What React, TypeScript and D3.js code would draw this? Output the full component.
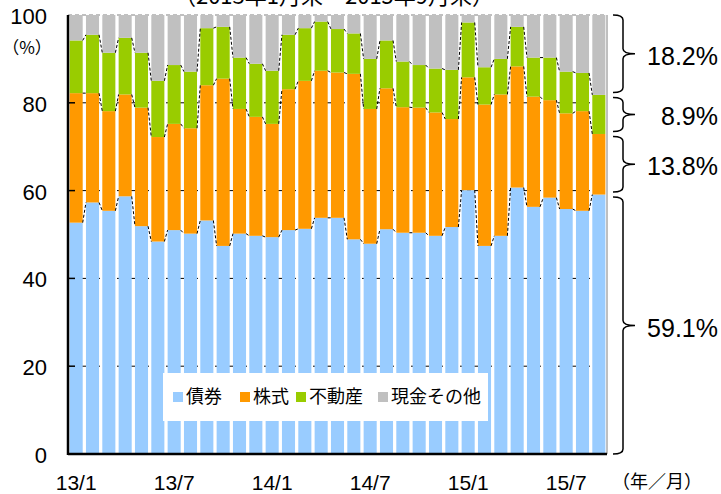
import React from "react";
import * as d3 from "d3";

// 2013/1 - 2015/9 month ends
const months = [
  "13/1", "13/2", "13/3", "13/4", "13/5", "13/6", "13/7", "13/8", "13/9", "13/10", "13/11", "13/12",
  "14/1", "14/2", "14/3", "14/4", "14/5", "14/6", "14/7", "14/8", "14/9", "14/10", "14/11", "14/12",
  "15/1", "15/2", "15/3", "15/4", "15/5", "15/6", "15/7", "15/8", "15/9",
];

const bonds = [
  52.7, 57.3, 55.4, 58.7, 51.9, 48.4, 51.0, 50.2, 53.2, 47.4, 50.2, 49.7,
  49.4, 51.0, 51.3, 53.8, 53.8, 48.9, 47.9, 51.2, 50.4, 50.4, 49.7, 51.7,
  60.1, 47.4, 49.7, 60.7, 56.3, 58.4, 55.8, 55.4, 59.1,
];
const stocks = [
  29.5, 24.9, 22.7, 23.2, 27.0, 23.8, 24.2, 24.0, 30.8, 38.1, 28.4, 27.1,
  25.8, 32.1, 33.7, 33.5, 33.1, 37.7, 30.7, 32.1, 28.6, 28.5, 28.1, 24.6,
  25.7, 32.2, 32.2, 27.6, 25.1, 22.2, 21.8, 22.7, 13.8,
];
const realEstate = [
  12.0, 13.3, 13.3, 12.9, 12.5, 12.8, 13.4, 12.9, 13.0, 11.8, 11.7, 12.1,
  12.1, 12.4, 12.0, 11.2, 9.9, 9.2, 11.4, 10.9, 10.4, 9.7, 10.0, 11.2,
  12.5, 8.5, 8.1, 9.0, 8.9, 9.7, 9.5, 8.7, 8.9,
];
const cashOther = bonds.map((b, i) => +(100 - b - stocks[i] - realEstate[i]).toFixed(1));

const seriesNames = ["債券", "株式", "不動産", "現金その他"];
const seriesColors = ["#99CCFF", "#FF9900", "#99CC00", "#C0C0C0"];
const latestLabels = ["59.1%", "13.8%", "8.9%", "18.2%"];
const xTickLabels = ["13/1", "13/7", "14/1", "14/7", "15/1", "15/7"];
const yTicks = [0, 20, 40, 60, 80, 100];

const W = 721;
const H = 494;
const left = 68;
const right = 607;
const top = 15;
const bottom = 454;
const font = "'Liberation Sans', Arial, 'Noto Sans CJK JP', sans-serif";
const jpFont = "'Noto Sans CJK JP', 'Liberation Sans', sans-serif";

export default function App() {
  const rows = months.map((m, i) => ({
    m,
    s0: bonds[i],
    s1: stocks[i],
    s2: realEstate[i],
    s3: cashOther[i],
  }));
  const keys = ["s0", "s1", "s2", "s3"];
  const stacked = d3.stack<any>().keys(keys)(rows);

  const x = d3.scaleBand().domain(months).range([left, right]).paddingInner(0.2).paddingOuter(0.1);
  const y = d3.scaleLinear().domain([0, 100]).range([bottom, top]);
  const bw = x.bandwidth();

  // dashed connector lines between bar tops (first three series)
  const connectors = stacked.slice(0, 3).map((layer) => {
    let p = "";
    for (let i = 0; i < layer.length - 1; i++) {
      p += `M${x(months[i])! + bw},${y(layer[i][1])}L${x(months[i + 1])},${y(layer[i + 1][1])}`;
    }
    return p;
  });

  // braces for the latest month
  const last = stacked.map((layer) => layer[layer.length - 1]);
  const bx = 623;
  const braces = last.map((d, k) => {
    const y1 = y(d[1]) + (k === 3 ? 0 : 2.5);
    const y2 = y(d[0]) - (k === 0 ? 0 : 2.5);
    const ym = (y1 + y2) / 2;
    const path =
      `M${bx - 10},${y1}Q${bx},${y1} ${bx},${y1 + 5}L${bx},${ym - 5}Q${bx},${ym} ${bx + 12},${ym}` +
      `Q${bx},${ym} ${bx},${ym + 5}L${bx},${y2 - 5}Q${bx},${y2} ${bx - 10},${y2}`;
    return { path, ym };
  });

  const legendX = [173, 240, 296, 378];

  return (
    <div style={{ position: "absolute", left: 0, top: 0 }}>
      <svg width={W} height={H} style={{ display: "block" }}>
        <rect width={W} height={H} fill="#fff" />
        <text x={334} y={4} textAnchor="middle" fontFamily={jpFont} fontSize={22} fill="#000">
          （2013年1月末～2015年9月末）
        </text>

        {/* gridlines */}
        {yTicks.slice(1).map((t) => (
          <line key={t} x1={left} x2={right} y1={y(t)} y2={y(t)} stroke={t === 100 ? "#808080" : "#000"}
            strokeWidth={1} strokeDasharray="4,3" />
        ))}

        {/* bars */}
        {stacked.map((layer, k) => (
          <g key={k} fill={seriesColors[k]}>
            {layer.map((d, i) => (
              <rect key={i} x={x(months[i])} y={y(d[1])} width={bw} height={y(d[0]) - y(d[1])} />
            ))}
          </g>
        ))}

        {connectors.map((p, k) => (
          <path key={k} d={p} fill="none" stroke="#000" strokeWidth={1} strokeDasharray="3,2" />
        ))}

        {/* axes / frame */}
        <line x1={right} x2={right} y1={top} y2={bottom} stroke="#808080" strokeWidth={1} />
        {yTicks.slice(1, 5).map((t) => (
          <line key={t} x1={left} x2={left + 7} y1={y(t)} y2={y(t)} stroke="#000" strokeWidth={1.5} />
        ))}
        <line x1={left} x2={left} y1={top} y2={bottom + 1} stroke="#000" strokeWidth={2.5} />
        <line x1={left} x2={right} y1={bottom} y2={bottom} stroke="#000" strokeWidth={2.5} />

        {yTicks.map((t) => (
          <text key={t} x={47} y={y(t) + 1} dy="0.36em" textAnchor="end" fontFamily={font} fontSize={22} fill="#000">
            {t}
          </text>
        ))}
        <text x={27} y={48} dy="0.36em" textAnchor="middle" fontFamily={jpFont} fontSize={17} fill="#000">
          （%）
        </text>

        {xTickLabels.map((l) => (
          <text key={l} x={x(l)! + bw / 2} y={482} dy="0.36em" textAnchor="middle" fontFamily={font} fontSize={21} fill="#000">
            {l}
          </text>
        ))}
        <text x={657} y={482} dy="0.36em" textAnchor="middle" fontFamily={jpFont} fontSize={18} fill="#000">
          （年／月）
        </text>

        {/* legend */}
        <rect x={163} y={373} width={325} height={48} fill="#fff" />
        {seriesNames.map((n, k) => (
          <g key={n}>
            <rect x={legendX[k]} y={392} width={10} height={10} fill={seriesColors[k]} />
            <text x={legendX[k] + 13} y={397} dy="0.36em" fontFamily={jpFont} fontSize={18} fill="#000">
              {n}
            </text>
          </g>
        ))}

        {/* braces with latest shares */}
        {braces.map((b, k) => (
          <g key={k}>
            <path d={b.path} fill="none" stroke="#000" strokeWidth={1.5} />
            <text x={718} y={b.ym + 2} dy="0.36em" textAnchor="end" fontFamily={font} fontSize={25} fill="#000">
              {latestLabels[k]}
            </text>
          </g>
        ))}
      </svg>
    </div>
  );
}
